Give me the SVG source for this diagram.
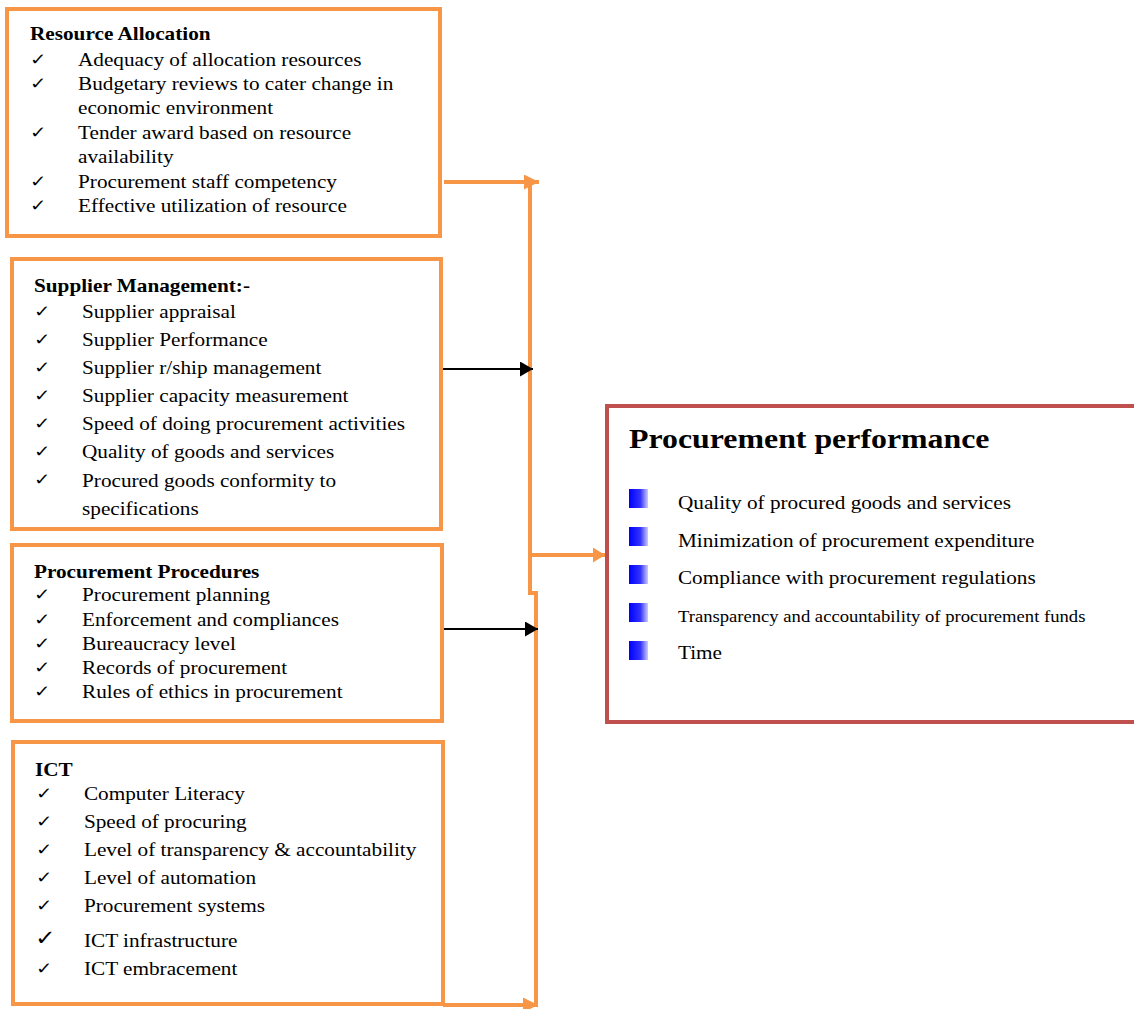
<svg xmlns="http://www.w3.org/2000/svg" width="1134" height="1009" viewBox="0 0 1134 1009">
<defs>
<style>
.box{fill:#fff;stroke:#F79646;stroke-width:4}
.pbox{fill:#fff;stroke:#C0504D;stroke-width:4}
.t{font-family:"Liberation Serif","Times New Roman",serif;font-size:18px;fill:#000}
.h{font-family:"Liberation Serif","Times New Roman",serif;font-size:18px;font-weight:bold;fill:#000}
.ph{font-family:"Liberation Serif","Times New Roman",serif;font-size:27px;font-weight:bold;fill:#000}
.ck{font-family:"DejaVu Sans",sans-serif;font-size:16.5px;fill:#000}
.oc{fill:none;stroke:#F79646;stroke-width:4}
.bc{fill:none;stroke:#000;stroke-width:2}
</style>
<linearGradient id="bl" x1="0" y1="0" x2="1" y2="0">
<stop offset="0" stop-color="#0000FF"/>
<stop offset="0.6" stop-color="#3333FF"/>
<stop offset="1" stop-color="#CCCCFF"/>
</linearGradient>
<marker id="oa" markerWidth="15" markerHeight="15" refX="10" refY="5" orient="auto" markerUnits="userSpaceOnUse" viewBox="0 0 10 10" preserveAspectRatio="none">
<path d="M0,0 L10,5 L0,10 z" fill="#F79646"/>
</marker>
<marker id="oa2" markerWidth="12" markerHeight="15" refX="10" refY="5" orient="auto" markerUnits="userSpaceOnUse" viewBox="0 0 10 10" preserveAspectRatio="none">
<path d="M0,0 L10,5 L0,10 z" fill="#F79646"/>
</marker>
<marker id="ba" markerWidth="13" markerHeight="15" refX="10" refY="5" orient="auto" markerUnits="userSpaceOnUse" viewBox="0 0 10 10" preserveAspectRatio="none">
<path d="M0,0 L10,5 L0,10 z" fill="#000"/>
</marker>
</defs>
<rect width="1134" height="1009" fill="#fff"/>

<g id="connectors">
<path class="oc" d="M530,182 V593 H536 V1004"/>
<line class="oc" x1="444" y1="182" x2="539" y2="182" marker-end="url(#oa)"/>
<line class="oc" x1="532" y1="555" x2="605" y2="555" marker-end="url(#oa2)"/>
<line class="oc" x1="443" y1="1005" x2="538" y2="1005" marker-end="url(#oa)"/>
<line class="bc" x1="435" y1="369" x2="533" y2="369" marker-end="url(#ba)"/>
<line class="bc" x1="443" y1="629" x2="538" y2="629" marker-end="url(#ba)"/>
</g>

<g id="resource-allocation">
<rect class="box" x="7" y="9" width="433" height="227"/>
<g transform="translate(30,0) scale(1.18,1)">
<text class="h" x="0" y="40">Resource Allocation</text>
<text class="ck" x="0" y="65">✓</text><text class="t" x="40.7" y="66">Adequacy of allocation resources</text>
<text class="ck" x="0" y="89">✓</text><text class="t" x="40.7" y="90">Budgetary reviews to cater change in</text>
<text class="t" x="40.7" y="114">economic environment</text>
<text class="ck" x="0" y="138">✓</text><text class="t" x="40.7" y="139">Tender award based on resource</text>
<text class="t" x="40.7" y="163">availability</text>
<text class="ck" x="0" y="187">✓</text><text class="t" x="40.7" y="188">Procurement staff competency</text>
<text class="ck" x="0" y="211">✓</text><text class="t" x="40.7" y="212">Effective utilization of resource</text>
</g>
</g>

<g id="supplier-management">
<rect class="box" x="12" y="259" width="429" height="270"/>
<g transform="translate(34,0) scale(1.18,1)">
<text class="h" x="0" y="292">Supplier Management:-</text>
<text class="ck" x="0" y="317">✓</text><text class="t" x="40.7" y="318">Supplier appraisal</text>
<text class="ck" x="0" y="345">✓</text><text class="t" x="40.7" y="346">Supplier Performance</text>
<text class="ck" x="0" y="373">✓</text><text class="t" x="40.7" y="374">Supplier r/ship management</text>
<text class="ck" x="0" y="401">✓</text><text class="t" x="40.7" y="402">Supplier capacity measurement</text>
<text class="ck" x="0" y="429">✓</text><text class="t" x="40.7" y="430">Speed of doing procurement activities</text>
<text class="ck" x="0" y="457">✓</text><text class="t" x="40.7" y="458">Quality of goods and services</text>
<text class="ck" x="0" y="485">✓</text><text class="t" x="40.7" y="487">Procured goods conformity to</text>
<text class="t" x="40.7" y="515">specifications</text>
</g>
</g>

<g id="procurement-procedures">
<rect class="box" x="12" y="545" width="430" height="176"/>
<g transform="translate(34,0) scale(1.18,1)">
<text class="h" x="0" y="578">Procurement Procedures</text>
<text class="ck" x="0" y="600">✓</text><text class="t" x="40.7" y="601">Procurement planning</text>
<text class="ck" x="0" y="625">✓</text><text class="t" x="40.7" y="626">Enforcement and compliances</text>
<text class="ck" x="0" y="649">✓</text><text class="t" x="40.7" y="650">Bureaucracy level</text>
<text class="ck" x="0" y="673">✓</text><text class="t" x="40.7" y="674">Records of procurement</text>
<text class="ck" x="0" y="697">✓</text><text class="t" x="40.7" y="698">Rules of ethics in procurement</text>
</g>
</g>

<g id="ict">
<rect class="box" x="13" y="742" width="430" height="262"/>
<g transform="translate(35,0) scale(1.18,1)">
<text class="h" x="0" y="776">ICT</text>
<text class="ck" x="0.8" y="799">✓</text><text class="t" x="41.5" y="800">Computer Literacy</text>
<text class="ck" x="0.8" y="827">✓</text><text class="t" x="41.5" y="828">Speed of procuring</text>
<text class="ck" x="0.8" y="855">✓</text><text class="t" x="41.5" y="856">Level of transparency &amp; accountability</text>
<text class="ck" x="0.8" y="883">✓</text><text class="t" x="41.5" y="884">Level of automation</text>
<text class="ck" x="0.8" y="911">✓</text><text class="t" x="41.5" y="912">Procurement systems</text>
<text class="ck" x="0" y="945" style="font-size:21px;font-weight:bold">✓</text><text class="t" x="41.5" y="947">ICT infrastructure</text>
<text class="ck" x="0.8" y="974">✓</text><text class="t" x="41.5" y="975">ICT embracement</text>
</g>
</g>

<g id="procurement-performance">
<rect class="pbox" x="607" y="406" width="533" height="316"/>
<rect x="629" y="489" width="19" height="19" fill="url(#bl)"/>
<rect x="629" y="527" width="19" height="19" fill="url(#bl)"/>
<rect x="629" y="565" width="19" height="19" fill="url(#bl)"/>
<rect x="629" y="603" width="19" height="19" fill="url(#bl)"/>
<rect x="629" y="641" width="19" height="19" fill="url(#bl)"/>
<g transform="translate(629,0) scale(1.18,1)">
<text class="ph" x="0" y="448">Procurement performance</text>
<text class="t" x="41.5" y="509">Quality of procured goods and services</text>
<text class="t" x="41.5" y="547">Minimization of procurement expenditure</text>
<text class="t" x="41.5" y="584">Compliance with procurement regulations</text>
<text class="t" x="41.5" y="622" style="font-size:15.8px">Transparency and accountability of procurement funds</text>
<text class="t" x="41.5" y="659">Time</text>
</g>
</g>
</svg>
